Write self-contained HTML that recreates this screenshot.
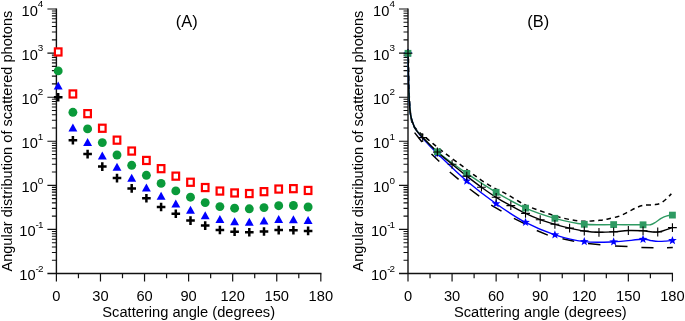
<!DOCTYPE html><html><head><meta charset="utf-8"><title>Angular distribution of scattered photons</title>
<style>html,body{margin:0;padding:0;background:#fff}svg{display:block}text{font-family:"Liberation Sans",Arial,sans-serif;fill:#000}text{filter:grayscale(1)}</style></head><body>
<svg width="685" height="321" viewBox="0 0 685 321">
<rect width="685" height="321" fill="#fff"/>
<path d="M56.40 8.42V273.50" stroke="#111" stroke-width="1.4" fill="none"/>
<path d="M47.40 273.50H321.42" stroke="#111" stroke-width="1.3" fill="none"/>
<path d="M51.90 260.23H56.40M51.90 252.47H56.40M51.90 246.96H56.40M51.90 242.69H56.40M51.90 239.20H56.40M51.90 236.25H56.40M51.90 233.69H56.40M51.90 231.44H56.40M47.40 229.42H56.40M51.90 216.15H56.40M51.90 208.39H56.40M51.90 202.88H56.40M51.90 198.61H56.40M51.90 195.12H56.40M51.90 192.17H56.40M51.90 189.61H56.40M51.90 187.36H56.40M47.40 185.34H56.40M51.90 172.07H56.40M51.90 164.31H56.40M51.90 158.80H56.40M51.90 154.53H56.40M51.90 151.04H56.40M51.90 148.09H56.40M51.90 145.53H56.40M51.90 143.28H56.40M47.40 141.26H56.40M51.90 127.99H56.40M51.90 120.23H56.40M51.90 114.72H56.40M51.90 110.45H56.40M51.90 106.96H56.40M51.90 104.01H56.40M51.90 101.45H56.40M51.90 99.20H56.40M47.40 97.18H56.40M51.90 83.91H56.40M51.90 76.15H56.40M51.90 70.64H56.40M51.90 66.37H56.40M51.90 62.88H56.40M51.90 59.93H56.40M51.90 57.37H56.40M51.90 55.12H56.40M47.40 53.10H56.40M51.90 39.83H56.40M51.90 32.07H56.40M51.90 26.56H56.40M51.90 22.29H56.40M51.90 18.80H56.40M51.90 15.85H56.40M51.90 13.29H56.40M51.90 11.04H56.40M47.40 9.02H56.40" stroke="#111" stroke-width="1.1" fill="none"/>
<path d="M56.40 273.50v8M78.44 273.50v4.7M100.47 273.50v8M122.50 273.50v4.7M144.54 273.50v8M166.58 273.50v4.7M188.61 273.50v8M210.65 273.50v4.7M232.68 273.50v8M254.72 273.50v4.7M276.75 273.50v8M298.79 273.50v4.7M320.82 273.50v8" stroke="#111" stroke-width="1.2" fill="none"/>
<text x="35.60" y="280.40" font-size="14.67" text-anchor="end">10</text>
<text x="35.60" y="271.80" font-size="9.9" letter-spacing="-0.9">-2</text>
<text x="35.60" y="236.32" font-size="14.67" text-anchor="end">10</text>
<text x="35.60" y="227.72" font-size="9.9" letter-spacing="-0.9">-1</text>
<text x="37.80" y="192.24" font-size="14.67" text-anchor="end">10</text>
<text x="37.80" y="183.64" font-size="9.9">0</text>
<text x="37.80" y="148.16" font-size="14.67" text-anchor="end">10</text>
<text x="37.80" y="139.56" font-size="9.9">1</text>
<text x="37.80" y="104.08" font-size="14.67" text-anchor="end">10</text>
<text x="37.80" y="95.48" font-size="9.9">2</text>
<text x="37.80" y="60.00" font-size="14.67" text-anchor="end">10</text>
<text x="37.80" y="51.40" font-size="9.9">3</text>
<text x="37.80" y="15.92" font-size="14.67" text-anchor="end">10</text>
<text x="37.80" y="7.32" font-size="9.9">4</text>
<text x="56.40" y="300.6" font-size="14.67" text-anchor="middle">0</text>
<text x="100.47" y="300.6" font-size="14.67" text-anchor="middle">30</text>
<text x="144.54" y="300.6" font-size="14.67" text-anchor="middle">60</text>
<text x="188.61" y="300.6" font-size="14.67" text-anchor="middle">90</text>
<text x="232.68" y="300.6" font-size="14.67" text-anchor="middle">120</text>
<text x="276.75" y="300.6" font-size="14.67" text-anchor="middle">150</text>
<text x="320.82" y="300.6" font-size="14.67" text-anchor="middle">180</text>
<text x="188.70" y="317.1" font-size="14.67" text-anchor="middle">Scattering angle (degrees)</text>
<text transform="translate(11.50 141.1) rotate(-90)" font-size="14.58" text-anchor="middle">Angular distribution of scattered photons</text>
<path d="M408.00 8.42V273.50" stroke="#111" stroke-width="1.4" fill="none"/>
<path d="M399.00 273.50H673.02" stroke="#111" stroke-width="1.3" fill="none"/>
<path d="M403.50 260.23H408.00M403.50 252.47H408.00M403.50 246.96H408.00M403.50 242.69H408.00M403.50 239.20H408.00M403.50 236.25H408.00M403.50 233.69H408.00M403.50 231.44H408.00M399.00 229.42H408.00M403.50 216.15H408.00M403.50 208.39H408.00M403.50 202.88H408.00M403.50 198.61H408.00M403.50 195.12H408.00M403.50 192.17H408.00M403.50 189.61H408.00M403.50 187.36H408.00M399.00 185.34H408.00M403.50 172.07H408.00M403.50 164.31H408.00M403.50 158.80H408.00M403.50 154.53H408.00M403.50 151.04H408.00M403.50 148.09H408.00M403.50 145.53H408.00M403.50 143.28H408.00M399.00 141.26H408.00M403.50 127.99H408.00M403.50 120.23H408.00M403.50 114.72H408.00M403.50 110.45H408.00M403.50 106.96H408.00M403.50 104.01H408.00M403.50 101.45H408.00M403.50 99.20H408.00M399.00 97.18H408.00M403.50 83.91H408.00M403.50 76.15H408.00M403.50 70.64H408.00M403.50 66.37H408.00M403.50 62.88H408.00M403.50 59.93H408.00M403.50 57.37H408.00M403.50 55.12H408.00M399.00 53.10H408.00M403.50 39.83H408.00M403.50 32.07H408.00M403.50 26.56H408.00M403.50 22.29H408.00M403.50 18.80H408.00M403.50 15.85H408.00M403.50 13.29H408.00M403.50 11.04H408.00M399.00 9.02H408.00" stroke="#111" stroke-width="1.1" fill="none"/>
<path d="M408.00 273.50v8M430.04 273.50v4.7M452.07 273.50v8M474.11 273.50v4.7M496.14 273.50v8M518.17 273.50v4.7M540.21 273.50v8M562.25 273.50v4.7M584.28 273.50v8M606.32 273.50v4.7M628.35 273.50v8M650.38 273.50v4.7M672.42 273.50v8" stroke="#111" stroke-width="1.2" fill="none"/>
<text x="387.20" y="280.40" font-size="14.67" text-anchor="end">10</text>
<text x="387.20" y="271.80" font-size="9.9" letter-spacing="-0.9">-2</text>
<text x="387.20" y="236.32" font-size="14.67" text-anchor="end">10</text>
<text x="387.20" y="227.72" font-size="9.9" letter-spacing="-0.9">-1</text>
<text x="389.40" y="192.24" font-size="14.67" text-anchor="end">10</text>
<text x="389.40" y="183.64" font-size="9.9">0</text>
<text x="389.40" y="148.16" font-size="14.67" text-anchor="end">10</text>
<text x="389.40" y="139.56" font-size="9.9">1</text>
<text x="389.40" y="104.08" font-size="14.67" text-anchor="end">10</text>
<text x="389.40" y="95.48" font-size="9.9">2</text>
<text x="389.40" y="60.00" font-size="14.67" text-anchor="end">10</text>
<text x="389.40" y="51.40" font-size="9.9">3</text>
<text x="389.40" y="15.92" font-size="14.67" text-anchor="end">10</text>
<text x="389.40" y="7.32" font-size="9.9">4</text>
<text x="408.00" y="300.6" font-size="14.67" text-anchor="middle">0</text>
<text x="452.07" y="300.6" font-size="14.67" text-anchor="middle">30</text>
<text x="496.14" y="300.6" font-size="14.67" text-anchor="middle">60</text>
<text x="540.21" y="300.6" font-size="14.67" text-anchor="middle">90</text>
<text x="584.28" y="300.6" font-size="14.67" text-anchor="middle">120</text>
<text x="628.35" y="300.6" font-size="14.67" text-anchor="middle">150</text>
<text x="672.42" y="300.6" font-size="14.67" text-anchor="middle">180</text>
<text x="540.30" y="317.1" font-size="14.67" text-anchor="middle">Scattering angle (degrees)</text>
<text transform="translate(363.10 141.1) rotate(-90)" font-size="14.58" text-anchor="middle">Angular distribution of scattered photons</text>
<text x="186.8" y="26.6" font-size="16.4" text-anchor="middle">(A)</text>
<text x="538.3" y="26.6" font-size="16.4" text-anchor="middle">(B)</text>
<g id="chartA">
<path d="M53.90 97.20h8.6M58.20 92.90v8.6" stroke="#000" stroke-width="2.5" fill="none"/>
<path d="M68.60 140.20h8.6M72.90 135.90v8.6" stroke="#000" stroke-width="2.5" fill="none"/>
<path d="M83.30 154.10h8.6M87.60 149.80v8.6" stroke="#000" stroke-width="2.5" fill="none"/>
<path d="M98.00 166.60h8.6M102.30 162.30v8.6" stroke="#000" stroke-width="2.5" fill="none"/>
<path d="M112.70 178.10h8.6M117.00 173.80v8.6" stroke="#000" stroke-width="2.5" fill="none"/>
<path d="M127.40 188.40h8.6M131.70 184.10v8.6" stroke="#000" stroke-width="2.5" fill="none"/>
<path d="M142.10 198.20h8.6M146.40 193.90v8.6" stroke="#000" stroke-width="2.5" fill="none"/>
<path d="M156.80 207.00h8.6M161.10 202.70v8.6" stroke="#000" stroke-width="2.5" fill="none"/>
<path d="M171.50 213.80h8.6M175.80 209.50v8.6" stroke="#000" stroke-width="2.5" fill="none"/>
<path d="M186.20 220.60h8.6M190.50 216.30v8.6" stroke="#000" stroke-width="2.5" fill="none"/>
<path d="M200.90 225.60h8.6M205.20 221.30v8.6" stroke="#000" stroke-width="2.5" fill="none"/>
<path d="M215.60 230.00h8.6M219.90 225.70v8.6" stroke="#000" stroke-width="2.5" fill="none"/>
<path d="M230.30 231.70h8.6M234.60 227.40v8.6" stroke="#000" stroke-width="2.5" fill="none"/>
<path d="M245.00 232.30h8.6M249.30 228.00v8.6" stroke="#000" stroke-width="2.5" fill="none"/>
<path d="M259.70 231.50h8.6M264.00 227.20v8.6" stroke="#000" stroke-width="2.5" fill="none"/>
<path d="M274.40 230.10h8.6M278.70 225.80v8.6" stroke="#000" stroke-width="2.5" fill="none"/>
<path d="M289.10 230.30h8.6M293.40 226.00v8.6" stroke="#000" stroke-width="2.5" fill="none"/>
<path d="M303.80 230.90h8.6M308.10 226.60v8.6" stroke="#000" stroke-width="2.5" fill="none"/>
<path d="M58.20 81.50L62.65 89.50H53.75Z" fill="#0000ff"/>
<path d="M72.90 123.50L77.35 131.50H68.45Z" fill="#0000ff"/>
<path d="M87.60 138.10L92.05 146.10H83.15Z" fill="#0000ff"/>
<path d="M102.30 151.40L106.75 159.40H97.85Z" fill="#0000ff"/>
<path d="M117.00 162.70L121.45 170.70H112.55Z" fill="#0000ff"/>
<path d="M131.70 173.70L136.15 181.70H127.25Z" fill="#0000ff"/>
<path d="M146.40 183.50L150.85 191.50H141.95Z" fill="#0000ff"/>
<path d="M161.10 191.80L165.55 199.80H156.65Z" fill="#0000ff"/>
<path d="M175.80 199.60L180.25 207.60H171.35Z" fill="#0000ff"/>
<path d="M190.50 205.80L194.95 213.80H186.05Z" fill="#0000ff"/>
<path d="M205.20 211.30L209.65 219.30H200.75Z" fill="#0000ff"/>
<path d="M219.90 215.10L224.35 223.10H215.45Z" fill="#0000ff"/>
<path d="M234.60 217.20L239.05 225.20H230.15Z" fill="#0000ff"/>
<path d="M249.30 217.80L253.75 225.80H244.85Z" fill="#0000ff"/>
<path d="M264.00 216.60L268.45 224.60H259.55Z" fill="#0000ff"/>
<path d="M278.70 215.00L283.15 223.00H274.25Z" fill="#0000ff"/>
<path d="M293.40 215.20L297.85 223.20H288.95Z" fill="#0000ff"/>
<path d="M308.10 215.90L312.55 223.90H303.65Z" fill="#0000ff"/>
<circle cx="58.20" cy="70.90" r="4.45" fill="#0a9a3a"/>
<circle cx="72.90" cy="112.30" r="4.45" fill="#0a9a3a"/>
<circle cx="87.60" cy="128.90" r="4.45" fill="#0a9a3a"/>
<circle cx="102.30" cy="142.60" r="4.45" fill="#0a9a3a"/>
<circle cx="117.00" cy="155.00" r="4.45" fill="#0a9a3a"/>
<circle cx="131.70" cy="165.30" r="4.45" fill="#0a9a3a"/>
<circle cx="146.40" cy="175.30" r="4.45" fill="#0a9a3a"/>
<circle cx="161.10" cy="183.40" r="4.45" fill="#0a9a3a"/>
<circle cx="175.80" cy="190.90" r="4.45" fill="#0a9a3a"/>
<circle cx="190.50" cy="197.20" r="4.45" fill="#0a9a3a"/>
<circle cx="205.20" cy="202.60" r="4.45" fill="#0a9a3a"/>
<circle cx="219.90" cy="206.60" r="4.45" fill="#0a9a3a"/>
<circle cx="234.60" cy="208.20" r="4.45" fill="#0a9a3a"/>
<circle cx="249.30" cy="208.80" r="4.45" fill="#0a9a3a"/>
<circle cx="264.00" cy="207.60" r="4.45" fill="#0a9a3a"/>
<circle cx="278.70" cy="205.70" r="4.45" fill="#0a9a3a"/>
<circle cx="293.40" cy="205.50" r="4.45" fill="#0a9a3a"/>
<circle cx="308.10" cy="207.00" r="4.45" fill="#0a9a3a"/>
<rect x="54.90" y="48.40" width="6.6" height="7.1" fill="#fff" stroke="#ff0000" stroke-width="2.2"/>
<rect x="69.60" y="90.40" width="6.6" height="7.1" fill="#fff" stroke="#ff0000" stroke-width="2.2"/>
<rect x="84.30" y="110.10" width="6.6" height="7.1" fill="#fff" stroke="#ff0000" stroke-width="2.2"/>
<rect x="99.00" y="124.70" width="6.6" height="7.1" fill="#fff" stroke="#ff0000" stroke-width="2.2"/>
<rect x="113.70" y="136.60" width="6.6" height="7.1" fill="#fff" stroke="#ff0000" stroke-width="2.2"/>
<rect x="128.40" y="147.50" width="6.6" height="7.1" fill="#fff" stroke="#ff0000" stroke-width="2.2"/>
<rect x="143.10" y="156.90" width="6.6" height="7.1" fill="#fff" stroke="#ff0000" stroke-width="2.2"/>
<rect x="157.80" y="165.10" width="6.6" height="7.1" fill="#fff" stroke="#ff0000" stroke-width="2.2"/>
<rect x="172.50" y="172.60" width="6.6" height="7.1" fill="#fff" stroke="#ff0000" stroke-width="2.2"/>
<rect x="187.20" y="178.70" width="6.6" height="7.1" fill="#fff" stroke="#ff0000" stroke-width="2.2"/>
<rect x="201.90" y="184.00" width="6.6" height="7.1" fill="#fff" stroke="#ff0000" stroke-width="2.2"/>
<rect x="216.60" y="187.50" width="6.6" height="7.1" fill="#fff" stroke="#ff0000" stroke-width="2.2"/>
<rect x="231.30" y="189.40" width="6.6" height="7.1" fill="#fff" stroke="#ff0000" stroke-width="2.2"/>
<rect x="246.00" y="190.00" width="6.6" height="7.1" fill="#fff" stroke="#ff0000" stroke-width="2.2"/>
<rect x="260.70" y="188.10" width="6.6" height="7.1" fill="#fff" stroke="#ff0000" stroke-width="2.2"/>
<rect x="275.40" y="185.50" width="6.6" height="7.1" fill="#fff" stroke="#ff0000" stroke-width="2.2"/>
<rect x="290.10" y="185.10" width="6.6" height="7.1" fill="#fff" stroke="#ff0000" stroke-width="2.2"/>
<rect x="304.80" y="186.90" width="6.6" height="7.1" fill="#fff" stroke="#ff0000" stroke-width="2.2"/>
</g>
<g id="chartB" fill="none">
<path d="M414.6 132.6L422 142M431.5 154L439.3 161.5M449.8 172L458.6 179.3M469.7 189L479.2 196.1M491.2 205.2L501.5 211.2M513.9 218.4L524.5 223.6M536.8 230.5L547.8 235.1M562.5 238.8L574.2 241.3M588 243.6L600.4 244.7M615 245.9L627.5 246.6M641.4 247.5L653.5 247.8M667 247.8L672.8 247.5" stroke="#000" stroke-width="1.5"/>
<path d="M408.40 53.30C408.48 58.58 408.67 76.55 408.90 85.00C409.13 93.45 409.28 97.73 409.80 104.00C410.32 110.27 410.62 118.12 412.00 122.60C413.38 127.08 415.92 128.48 418.10 130.90C420.28 133.32 422.62 134.98 425.10 137.10C427.58 139.22 429.43 140.72 433.00 143.60C436.57 146.48 441.75 150.77 446.50 154.40C451.25 158.03 456.93 161.98 461.50 165.40C466.07 168.82 469.32 171.62 473.90 174.90C478.48 178.18 483.63 181.93 489.00 185.10C494.37 188.27 500.97 191.08 506.10 193.90C511.23 196.72 516.02 199.88 519.80 202.00C523.58 204.12 524.42 204.78 528.80 206.60C533.18 208.42 541.47 211.27 546.10 212.90C550.73 214.53 552.68 215.30 556.60 216.40C560.52 217.50 565.20 218.68 569.60 219.50C574.00 220.32 578.00 221.17 583.00 221.30C588.00 221.43 595.60 220.65 599.60 220.30C603.60 219.95 603.67 219.92 607.00 219.20C610.33 218.48 615.95 217.28 619.60 216.00C623.25 214.72 626.13 212.87 628.90 211.50C631.67 210.13 633.75 208.85 636.20 207.80C638.65 206.75 640.42 205.73 643.60 205.20C646.78 204.67 652.13 205.13 655.30 204.60C658.47 204.07 659.92 203.78 662.60 202.00C665.28 200.22 669.93 195.25 671.40 193.90" stroke="#000" stroke-width="1.5" stroke-dasharray="4.7 3.8" stroke-dashoffset="3"/>
<path d="M408.20 53.30C408.27 58.58 408.43 77.28 408.60 85.00C408.77 92.72 408.88 94.72 409.20 99.60C409.52 104.48 409.97 110.63 410.50 114.30C411.03 117.97 411.58 119.17 412.40 121.60C413.22 124.03 413.68 126.13 415.40 128.90C417.12 131.67 419.03 134.10 422.69 138.20C426.35 142.30 430.03 146.37 437.38 153.50C444.73 160.63 456.97 172.63 466.76 181.00C476.55 189.37 486.35 196.80 496.14 203.70C505.93 210.60 515.73 217.22 525.52 222.40C535.31 227.58 545.11 231.60 554.90 234.80C564.69 238.00 574.49 240.43 584.28 241.60C594.07 242.77 603.87 242.18 613.66 241.80C623.45 241.42 636.82 239.50 643.04 239.30C649.26 239.10 648.47 240.25 651.00 240.60C653.53 240.95 655.70 241.32 658.20 241.40C660.70 241.48 663.63 241.25 666.00 241.10C668.37 240.95 671.35 240.60 672.42 240.50" stroke="#0000ff" stroke-width="1.4"/>
<path d="M408.20 53.30C408.27 58.58 408.43 77.28 408.60 85.00C408.77 92.72 408.88 94.72 409.20 99.60C409.52 104.48 409.97 110.63 410.50 114.30C411.03 117.97 411.58 119.17 412.40 121.60C413.22 124.03 413.68 126.28 415.40 128.90C417.12 131.52 419.03 133.48 422.69 137.30C426.35 141.12 430.03 145.78 437.38 151.80C444.73 157.82 456.97 166.65 466.76 173.40C476.55 180.15 486.35 186.52 496.14 192.30C505.93 198.08 515.73 203.77 525.52 208.10C535.31 212.43 545.11 215.60 554.90 218.30C564.69 221.00 574.49 223.25 584.28 224.30C594.07 225.35 603.87 224.52 613.66 224.60C623.45 224.68 636.90 224.78 643.04 224.80C649.18 224.82 648.34 225.17 650.50 224.70C652.66 224.23 654.23 223.05 656.00 222.00C657.77 220.95 659.27 219.42 661.10 218.40C662.93 217.38 665.11 216.45 667.00 215.90C668.89 215.35 671.52 215.23 672.42 215.10" stroke="#2e9a62" stroke-width="1.4"/>
<path d="M408.20 53.30C408.27 58.58 408.43 77.28 408.60 85.00C408.77 92.72 408.88 94.72 409.20 99.60C409.52 104.48 409.97 110.63 410.50 114.30C411.03 117.97 411.58 119.17 412.40 121.60C413.22 124.03 413.68 126.23 415.40 128.90C417.12 131.57 419.03 133.75 422.69 137.60C426.35 141.45 432.48 147.55 437.38 152.00C442.28 156.45 447.17 160.28 452.07 164.30C456.97 168.32 461.86 172.28 466.76 176.10C471.66 179.92 476.55 183.67 481.45 187.20C486.35 190.73 491.24 194.23 496.14 197.30C501.04 200.37 505.93 202.92 510.83 205.60C515.73 208.28 520.62 211.05 525.52 213.40C530.42 215.75 535.31 217.88 540.21 219.70C545.11 221.52 550.00 222.90 554.90 224.30C559.80 225.70 564.69 226.98 569.59 228.10C574.49 229.22 579.38 230.30 584.28 231.00C589.18 231.70 594.07 232.17 598.97 232.30C603.87 232.43 608.76 232.10 613.66 231.80C618.56 231.50 623.45 230.67 628.35 230.50C633.25 230.33 638.14 230.55 643.04 230.80C647.94 231.05 652.83 232.53 657.73 232.00C662.63 231.47 669.97 228.33 672.42 227.60" stroke="#000" stroke-width="1.4"/>
<path d="M408.00 48.70L409.12 51.76L412.37 51.88L409.81 53.89L410.70 57.02L408.00 55.20L405.30 57.02L406.19 53.89L403.63 51.88L406.88 51.76Z" fill="#0000ff"/>
<path d="M437.38 148.90L438.50 151.96L441.75 152.08L439.19 154.09L440.08 157.22L437.38 155.40L434.68 157.22L435.57 154.09L433.01 152.08L436.26 151.96Z" fill="#0000ff"/>
<path d="M466.76 176.40L467.88 179.46L471.13 179.58L468.57 181.59L469.46 184.72L466.76 182.90L464.06 184.72L464.95 181.59L462.39 179.58L465.64 179.46Z" fill="#0000ff"/>
<path d="M496.14 199.10L497.26 202.16L500.51 202.28L497.95 204.29L498.84 207.42L496.14 205.60L493.44 207.42L494.33 204.29L491.77 202.28L495.02 202.16Z" fill="#0000ff"/>
<path d="M525.52 217.80L526.64 220.86L529.89 220.98L527.33 222.99L528.22 226.12L525.52 224.30L522.82 226.12L523.71 222.99L521.15 220.98L524.40 220.86Z" fill="#0000ff"/>
<path d="M554.90 230.20L556.02 233.26L559.27 233.38L556.71 235.39L557.60 238.52L554.90 236.70L552.20 238.52L553.09 235.39L550.53 233.38L553.78 233.26Z" fill="#0000ff"/>
<path d="M584.28 237.00L585.40 240.06L588.65 240.18L586.09 242.19L586.98 245.32L584.28 243.50L581.58 245.32L582.47 242.19L579.91 240.18L583.16 240.06Z" fill="#0000ff"/>
<path d="M613.66 237.20L614.78 240.26L618.03 240.38L615.47 242.39L616.36 245.52L613.66 243.70L610.96 245.52L611.85 242.39L609.29 240.38L612.54 240.26Z" fill="#0000ff"/>
<path d="M643.04 234.70L644.16 237.76L647.41 237.88L644.85 239.89L645.74 243.02L643.04 241.20L640.34 243.02L641.23 239.89L638.67 237.88L641.92 237.76Z" fill="#0000ff"/>
<path d="M672.42 235.90L673.54 238.96L676.79 239.08L674.23 241.09L675.12 244.22L672.42 242.40L669.72 244.22L670.61 241.09L668.05 239.08L671.30 238.96Z" fill="#0000ff"/>
<rect x="404.60" y="49.90" width="6.8" height="6.8" fill="#2e9a62"/>
<rect x="433.98" y="148.40" width="6.8" height="6.8" fill="#2e9a62"/>
<rect x="463.36" y="170.00" width="6.8" height="6.8" fill="#2e9a62"/>
<rect x="492.74" y="188.90" width="6.8" height="6.8" fill="#2e9a62"/>
<rect x="522.12" y="204.70" width="6.8" height="6.8" fill="#2e9a62"/>
<rect x="551.50" y="214.90" width="6.8" height="6.8" fill="#2e9a62"/>
<rect x="580.88" y="220.90" width="6.8" height="6.8" fill="#2e9a62"/>
<rect x="610.26" y="221.20" width="6.8" height="6.8" fill="#2e9a62"/>
<rect x="639.64" y="221.40" width="6.8" height="6.8" fill="#2e9a62"/>
<rect x="669.02" y="211.70" width="6.8" height="6.8" fill="#2e9a62"/>
<path d="M403.60 53.30h8.8M408.00 48.90v8.8M418.29 137.60h8.8M422.69 133.20v8.8M432.98 152.00h8.8M437.38 147.60v8.8M447.67 164.30h8.8M452.07 159.90v8.8M462.36 176.10h8.8M466.76 171.70v8.8M477.05 187.20h8.8M481.45 182.80v8.8M491.74 197.30h8.8M496.14 192.90v8.8M506.43 205.60h8.8M510.83 201.20v8.8M521.12 213.40h8.8M525.52 209.00v8.8M535.81 219.70h8.8M540.21 215.30v8.8M550.50 224.30h8.8M554.90 219.90v8.8M565.19 228.10h8.8M569.59 223.70v8.8M579.88 231.00h8.8M584.28 226.60v8.8M594.57 232.30h8.8M598.97 227.90v8.8M609.26 231.80h8.8M613.66 227.40v8.8M623.95 230.50h8.8M628.35 226.10v8.8M638.64 230.80h8.8M643.04 226.40v8.8M653.33 232.00h8.8M657.73 227.60v8.8M668.02 227.60h8.8M672.42 223.20v8.8" stroke="#000" stroke-width="1.1"/>
</g>
</svg></body></html>
